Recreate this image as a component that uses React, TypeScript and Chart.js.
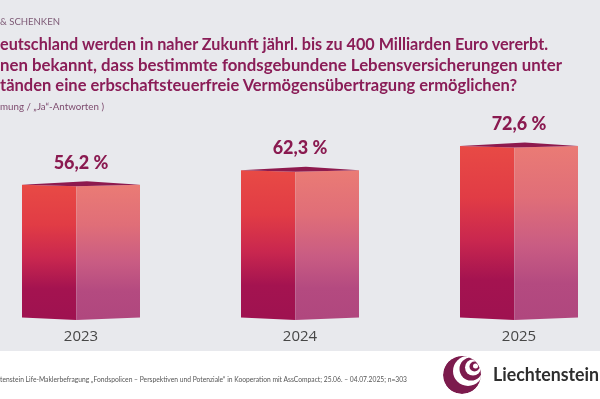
import React, { useEffect, useRef } from "react";
import { Chart, registerables } from "chart.js";

Chart.register(...registerables);

// ---- data ----
const categories = ["2023", "2024", "2025"];
const values = [56.2, 62.3, 72.6];
const yMin = 0;
const yMax = 100;

const sectionLabel = "& SCHENKEN";
const titleLines = [
  "eutschland werden in naher Zukunft jährl. bis zu 400 Milliarden Euro vererbt.",
  "nen bekannt, dass bestimmte fondsgebundene Lebensversicherungen unter",
  "tänden eine erbschaftsteuerfreie Vermögensübertragung ermöglichen?",
];
const subtitle = "mung / „Ja“-Antworten )";
const footerText =
  "tenstein Life-Maklerbefragung „Fondspolicen – Perspektiven und Potenziale“ in Kooperation mit AssCompact; 25.06. – 04.07.2025; n=303";
const brand = "Liechtenstein";

const fmt = (v: number) => v.toFixed(1).replace(".", ",") + " %";

const box3dPlugin = {
  id: "box3d",
  afterDatasetsDraw(chart: any) {
    const ctx: CanvasRenderingContext2D = chart.ctx;
    const meta = chart.getDatasetMeta(0);
    const xScale = chart.scales.x;
    ctx.save();
    meta.data.forEach((el: any, i: number) => {
      const { x, y, base, width } = el.getProps(["x", "y", "base", "width"], true);
      const L = x - width / 2;
      const R = x + width / 2;
      const D = L + width * 0.46;
      const P = L + width * 0.55;

      // front (left) face
      const gF = ctx.createLinearGradient(0, y, 0, base);
      gF.addColorStop(0, "#e84a45");
      gF.addColorStop(0.3, "#e13c45");
      gF.addColorStop(0.55, "#c9274f");
      gF.addColorStop(0.78, "#a41350");
      gF.addColorStop(1, "#9f1250");
      ctx.fillStyle = gF;
      ctx.beginPath();
      ctx.moveTo(L, y);
      ctx.lineTo(D, y + 1.5);
      ctx.lineTo(D, base + 2);
      ctx.lineTo(L, base - 0.5);
      ctx.closePath();
      ctx.fill();

      // right face
      const gR = ctx.createLinearGradient(0, y, 0, base);
      gR.addColorStop(0, "#ea7b75");
      gR.addColorStop(0.3, "#e06e78");
      gR.addColorStop(0.58, "#c95c83");
      gR.addColorStop(0.8, "#b44a80");
      gR.addColorStop(1, "#b0477e");
      ctx.fillStyle = gR;
      ctx.beginPath();
      ctx.moveTo(D, y + 1.5);
      ctx.lineTo(R, y);
      ctx.lineTo(R, base - 0.5);
      ctx.lineTo(D, base + 2);
      ctx.closePath();
      ctx.fill();

      // top face
      ctx.fillStyle = "#8e1a4e";
      ctx.beginPath();
      ctx.moveTo(L, y);
      ctx.lineTo(P, y - 3.5);
      ctx.lineTo(R, y);
      ctx.lineTo(D, y + 1.5);
      ctx.closePath();
      ctx.fill();

      // value label
      ctx.fillStyle = "#8a1a50";
      ctx.font = "900 18px Lato, 'Open Sans', sans-serif";
      ctx.textAlign = "center";
      ctx.textBaseline = "middle";
      ctx.fillText(fmt(values[i]), x, y - 22);

      // category label
      ctx.fillStyle = "#474747";
      ctx.font = "400 15px 'Open Sans', Lato, sans-serif";
      ctx.fillText(String(xScale.getLabelForValue(i)), x, base + 19);
    });
    ctx.restore();
  },
};

function Logo() {
  const cx = 462;
  const cy = 375;
  const r = 19;
  return (
    <g>
      <defs>
        <clipPath id="ball">
          <circle cx={cx} cy={cy} r={r} />
        </clipPath>
      </defs>
      <g clipPath="url(#ball)">
        <circle cx={cx} cy={cy} r={r} fill="#7c1b4d" />
        <circle cx={cx + 6} cy={cy - 4} r={15} fill="#ffffff" />
        <circle cx={cx + 9} cy={cy - 6} r={11.5} fill="#7c1b4d" />
        <circle cx={cx + 11} cy={cy - 7.5} r={8} fill="#ffffff" />
        <circle cx={cx + 12.5} cy={cy - 8.5} r={5} fill="#7c1b4d" />
        <circle cx={cx + 13.5} cy={cy - 9} r={2.5} fill="#ffffff" />
      </g>
    </g>
  );
}

export default function App() {
  const canvasRef = useRef<HTMLCanvasElement | null>(null);

  useEffect(() => {
    if (!canvasRef.current) return;
    const chart = new Chart(canvasRef.current, {
      type: "bar",
      data: {
        labels: categories,
        datasets: [
          {
            data: values,
            backgroundColor: "rgba(0,0,0,0)",
            borderWidth: 0,
            barThickness: 118,
            clip: false as any,
          },
        ],
      },
      options: {
        responsive: false,
        animation: false,
        devicePixelRatio: 1,
        layout: { padding: { top: 81, bottom: 32, left: 81, right: 81 } },
        plugins: {
          legend: { display: false },
          tooltip: { enabled: false },
          title: { display: false },
        },
        scales: {
          x: { type: "category", offset: false, display: false },
          y: { min: yMin, max: yMax, display: false },
        },
      },
      plugins: [box3dPlugin],
    });
    return () => chart.destroy();
  }, []);

  const titleFont = "Lato, 'Open Sans', sans-serif";
  return (
    <div
      style={{
        position: "fixed",
        left: 0,
        top: 0,
        width: 600,
        height: 399,
        overflow: "hidden",
        background: "#e8e9ed",
      }}
    >
      <div
        style={{
          position: "absolute",
          left: 0,
          top: 351,
          width: 600,
          height: 48,
          background: "#ffffff",
        }}
      />
      <canvas
        ref={canvasRef}
        width={600}
        height={350}
        style={{ position: "absolute", left: 0, top: 0, width: 600, height: 350 }}
      />
      <svg
        width={600}
        height={399}
        style={{ position: "absolute", left: 0, top: 0, pointerEvents: "none" }}
      >
        <text
          x={0}
          y={25}
          textLength={60}
          lengthAdjust="spacingAndGlyphs"
          fontFamily={titleFont}
          fontSize={10}
          fill="#7d5a76"
        >
          {sectionLabel}
        </text>
        {titleLines.map((t, i) => (
          <text
            key={i}
            x={0}
            y={[50, 70.5, 91][i]}
            textLength={[548, 562, 517][i]}
            lengthAdjust="spacingAndGlyphs"
            fontFamily={titleFont}
            fontWeight={700}
            fontSize={17}
            fill="#8a1d57"
          >
            {t}
          </text>
        ))}
        <text
          x={0}
          y={110}
          textLength={104}
          lengthAdjust="spacingAndGlyphs"
          fontFamily={titleFont}
          fontSize={10}
          fill="#7d4b6e"
        >
          {subtitle}
        </text>
        <text
          x={0}
          y={382}
          textLength={407}
          lengthAdjust="spacingAndGlyphs"
          fontFamily={titleFont}
          fontSize={8}
          fill="#555555"
        >
          {footerText}
        </text>
        <Logo />
        <text
          x={493}
          y={381}
          textLength={106}
          lengthAdjust="spacingAndGlyphs"
          fontFamily={titleFont}
          fontWeight={700}
          fontSize={18}
          fill="#2e2e2e"
        >
          {brand}
        </text>
      </svg>
    </div>
  );
}
